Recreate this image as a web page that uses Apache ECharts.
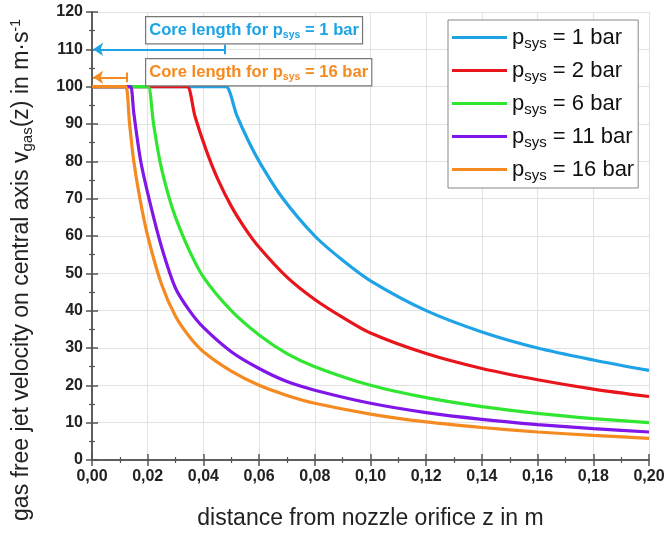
<!DOCTYPE html>
<html>
<head>
<meta charset="utf-8">
<script src="https://cdn.jsdelivr.net/npm/echarts@6/dist/echarts.min.js"></script>
<style>html,body{margin:0;padding:0;background:#fff}#main{width:668px;height:535px}</style>
</head>
<body>
<div id="main"></div>
<script>
var chart = echarts.init(document.getElementById('main'));

// system pressures in bar
var pressures = [1, 2, 6, 11, 16];
var lineColors = ['#1ea3e6', '#e8151c', '#30e630', '#8016e8', '#f58a20'];

// [z in m, v in m/s]
var v1bar = [[0, 100], [0.046, 100], [0.0481, 100], [0.052, 92.3], [0.056, 85.7], [0.06, 80], [0.068, 70.6], [0.08, 60], [0.09, 53.5], [0.10, 48], [0.12, 40], [0.14, 34.3], [0.16, 30], [0.18, 26.8], [0.20, 24]];
var v2bar = [[0, 100], [0.032, 100], [0.0342, 100], [0.037, 92], [0.041, 83], [0.045, 75.5], [0.05, 68], [0.055, 62], [0.06, 57], [0.07, 49], [0.08, 43], [0.09, 38.2], [0.10, 34], [0.12, 28.5], [0.14, 24.5], [0.16, 21.5], [0.18, 19], [0.20, 17]];
var v6bar = [[0, 100], [0.019, 100], [0.0202, 100], [0.0221, 90], [0.0244, 80], [0.0274, 71], [0.03, 65], [0.035, 56], [0.04, 49], [0.05, 40], [0.06, 33.5], [0.07, 28.5], [0.08, 25], [0.10, 20], [0.12, 16.7], [0.14, 14.3], [0.16, 12.5], [0.18, 11.1], [0.20, 10]];
var v11bar = [[0, 100], [0.013, 100], [0.0139, 100], [0.015, 93], [0.0175, 80], [0.0208, 69], [0.025, 57], [0.03, 46], [0.035, 40], [0.04, 35.5], [0.05, 29], [0.06, 24.5], [0.07, 21], [0.08, 18.7], [0.10, 15.2], [0.12, 12.7], [0.14, 10.9], [0.16, 9.5], [0.18, 8.4], [0.20, 7.5]];
var v16bar = [[0, 100], [0.0112, 100], [0.0122, 100], [0.0135, 90], [0.015, 80], [0.0172, 70], [0.02, 60], [0.025, 47], [0.03, 38.5], [0.035, 33], [0.04, 29], [0.05, 23.8], [0.06, 20], [0.07, 17.3], [0.08, 15.2], [0.10, 12.3], [0.12, 10.2], [0.14, 8.7], [0.16, 7.5], [0.18, 6.6], [0.20, 5.8]];
var allData = [v1bar, v2bar, v6bar, v11bar, v16bar];

// core length arrows: [core length, arrow height]
var core1 = [0.0478, 110];
var core16 = [0.0126, 102.5];

var axisColor = '#555';
var font = 'Liberation Sans, Arial, sans-serif';

function fmtX(v) {
    return v.toFixed(2).replace('.', ',');
}

var series = pressures.map(function (p, i) {
    return {
        name: 'p_sys = ' + p + ' bar',
        type: 'line',
        data: allData[i],
        showSymbol: false,
        smooth: 0.3,
        lineStyle: { width: 3.2, color: lineColors[i] },
        itemStyle: { color: lineColors[i] },
        z: 3
    };
});

// arrows for the core length
function arrowLine(core, color) {
    return {
        type: 'line',
        data: [],
        silent: true,
        markLine: {
            silent: true,
            animation: false,
            label: { show: false },
            lineStyle: { color: color, width: 2, type: 'solid' },
            symbolSize: 10,
            data: [
                [{ coord: [core[0], core[1]], symbol: 'none' }, { coord: [0.0004, core[1]], symbol: 'arrow' }],
                [{ coord: [core[0], core[1] - 1.3], symbol: 'none' }, { coord: [core[0], core[1] + 1.3], symbol: 'none' }]
            ]
        }
    };
}
series.push(arrowLine(core1, '#1ea3e6'));
series.push(arrowLine(core16, '#f58a20'));

function noteBox(txt, color, top) {
    return {
        type: 'text',
        left: 145,
        top: top,
        z: 10,
        style: {
            text: '{a|Core length for p}{s|sys}{a| = ' + txt + '}',
            backgroundColor: '#fff',
            borderColor: '#777',
            borderWidth: 1.2,
            padding: [3, 3, 2, 3],
            rich: {
                a: { fontFamily: font, fontWeight: 'bold', fontSize: 16.6, fill: color, lineHeight: 21 },
                s: { fontFamily: font, fontWeight: 'bold', fontSize: 10.5, fill: color, padding: [9, 0, 0, 0], lineHeight: 21 }
            }
        }
    };
}

var option = {
    backgroundColor: '#fff',
    animation: false,
    grid: { left: 92, right: 19, top: 12, bottom: 74, containLabel: false },
    legend: {
        left: 448,
        top: 20,
        orient: 'vertical',
        backgroundColor: '#fff',
        borderColor: '#888',
        borderWidth: 1,
        padding: [4, 4, 5, 4],
        itemGap: 6,
        itemWidth: 55,
        itemHeight: 3,
        icon: 'rect',
        formatter: function (name) {
            var rest = name.replace('p_sys', '');
            return '{p|p}{s|sys}{p|' + rest + '}';
        },
        textStyle: {
            rich: {
                p: { fontFamily: font, fontSize: 22, color: '#111', lineHeight: 28 },
                s: { fontFamily: font, fontSize: 15, color: '#111', padding: [12, 0, 0, 0], lineHeight: 28 }
            }
        },
        z: 10
    },
    graphic: [
        noteBox('1 bar', '#1ea3e6', 16),
        noteBox('16 bar', '#f58a20', 58)
    ],
    xAxis: [{
        type: 'value',
        min: 0,
        max: 0.2,
        interval: 0.02,
        name: 'distance from nozzle orifice z in m',
        nameLocation: 'middle',
        nameGap: 47,
        nameTextStyle: { fontFamily: font, fontSize: 23, color: '#222' },
        axisLine: { show: true, onZero: false, lineStyle: { color: axisColor, width: 1.5 } },
        axisTick: { show: true, length: 6, lineStyle: { color: axisColor, width: 1.5 } },
        minorTick: { show: true, splitNumber: 2, length: 3, lineStyle: { color: axisColor, width: 1.2 } },
        axisLabel: { fontFamily: font, fontSize: 16, fontWeight: 'bold', color: '#222', margin: 9, formatter: fmtX, showMaxLabel: true },
        splitLine: { show: true, lineStyle: { color: '#e2e2e2', width: 1 } }
    }, {
        type: 'value',
        position: 'top',
        min: 0,
        max: 0.2,
        interval: 0.02,
        axisLine: { show: true, lineStyle: { color: axisColor, width: 1.5 } },
        axisTick: { show: true, length: 6, lineStyle: { color: axisColor, width: 1.5 } },
        minorTick: { show: true, splitNumber: 2, length: 3, lineStyle: { color: axisColor, width: 1.2 } },
        axisLabel: { show: false },
        splitLine: { show: false }
    }],
    yAxis: [{
        type: 'value',
        min: 0,
        max: 120,
        interval: 10,
        name: '{n|gas free jet velocity on central axis v}{s|gas}{n|(z) in m·s}{u|-1}',
        nameLocation: 'middle',
        nameGap: 56,
        nameTextStyle: {
            padding: [0, 68, 0, 0],
            rich: {
                n: { fontFamily: font, fontSize: 23, color: '#222', lineHeight: 28 },
                s: { fontFamily: font, fontSize: 15, color: '#222', padding: [12, 0, 0, 0], lineHeight: 28 },
                u: { fontFamily: font, fontSize: 14, color: '#222', padding: [0, 0, 12, 0], lineHeight: 28 }
            }
        },
        axisLine: { show: true, onZero: false, lineStyle: { color: axisColor, width: 1.5 } },
        axisTick: { show: true, length: 6, lineStyle: { color: axisColor, width: 1.5 } },
        minorTick: { show: true, splitNumber: 2, length: 3, lineStyle: { color: axisColor, width: 1.2 } },
        axisLabel: { fontFamily: font, fontSize: 16, fontWeight: 'bold', color: '#222', margin: 9 },
        splitLine: { show: true, lineStyle: { color: '#e2e2e2', width: 1 } }
    }, {
        type: 'value',
        position: 'right',
        min: 0,
        max: 120,
        interval: 10,
        axisLine: { show: true, lineStyle: { color: axisColor, width: 1.5 } },
        axisTick: { show: true, length: 6, lineStyle: { color: axisColor, width: 1.5 } },
        minorTick: { show: true, splitNumber: 2, length: 3, lineStyle: { color: axisColor, width: 1.2 } },
        axisLabel: { show: false },
        splitLine: { show: false }
    }],
    series: series
};

chart.setOption(option);
</script>
</body>
</html>
